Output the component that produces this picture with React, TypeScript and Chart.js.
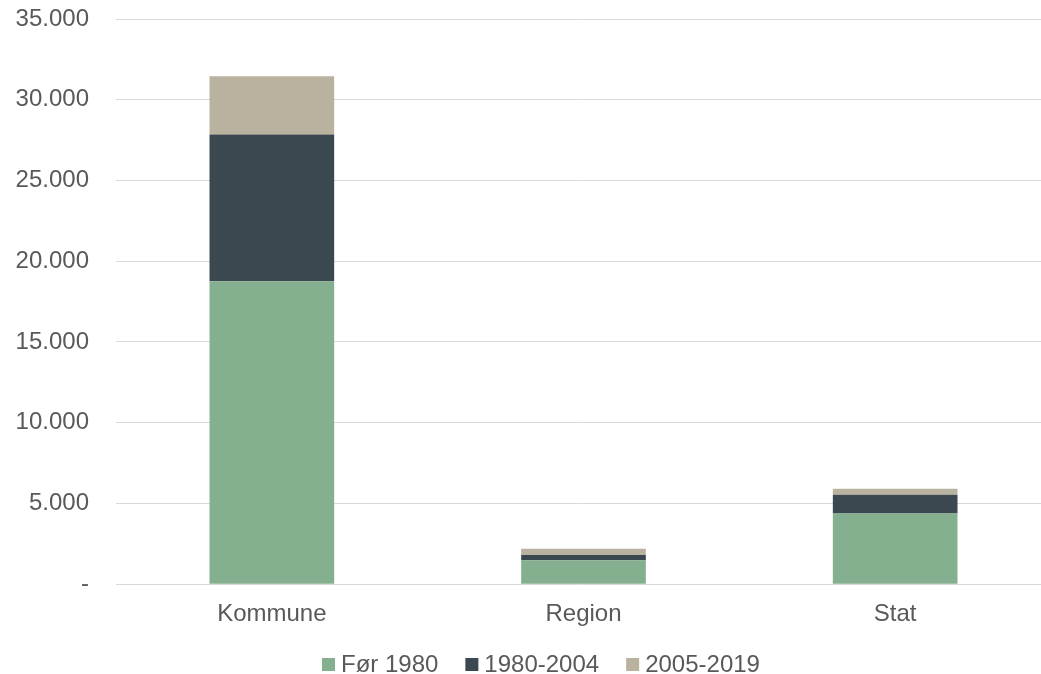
import React, { useEffect, useRef } from "react";
import { Chart, registerables } from "chart.js";

Chart.register(...registerables);

const categories = ["Kommune", "Region", "Stat"];
const seriesNames = ["Før 1980", "1980-2004", "2005-2019"];
const foer1980 = [18760, 1490, 4380];
const s1980to2004 = [9080, 325, 1155];
const s2005to2019 = [3610, 375, 370];
const yTicks = [0, 5000, 10000, 15000, 20000, 25000, 30000, 35000];

const colors = ["#84B08F", "#3B4850", "#B8B29E"];
const FONT = "'Liberation Sans', Arial, sans-serif";
const TEXT = "#595959";
const FS = 24;

function fmt(v: number): string {
  if (v === 0) return "-";
  return String(v).replace(/\B(?=(\d{3})+(?!\d))/g, ".");
}

const legendPlugin = {
  id: "customLegend",
  afterDraw(chart: any) {
    const ctx = chart.ctx as CanvasRenderingContext2D;
    ctx.save();
    ctx.font = `${FS}px ${FONT}`;
    const box = 13;
    const gapText = 6;
    const gapItem = 27;
    const items = chart.data.datasets.map((ds: any) => ({
      label: ds.label as string,
      color: ds.backgroundColor as string,
      w: ctx.measureText(ds.label).width,
    }));
    const total =
      items.reduce((s: number, it: any) => s + box + gapText + it.w, 0) +
      gapItem * (items.length - 1);
    const center = 541;
    let x = Math.round(center - total / 2);
    const baseline = 672;
    ctx.textBaseline = "alphabetic";
    ctx.textAlign = "left";
    for (const it of items) {
      ctx.fillStyle = it.color;
      ctx.fillRect(x, baseline - 14, box, box);
      x += box + gapText;
      ctx.fillStyle = TEXT;
      ctx.fillText(it.label, x, baseline);
      x += it.w + gapItem;
    }
    ctx.restore();
  },
};

export default function App() {
  const ref = useRef<HTMLCanvasElement | null>(null);
  useEffect(() => {
    document.body.style.margin = "0";
    document.body.style.overflow = "hidden";
    const ctx = ref.current!.getContext("2d")!;
    const chart = new Chart(ctx, {
      type: "bar",
      data: {
        labels: categories,
        datasets: [foer1980, s1980to2004, s2005to2019].map((d, i) => ({
          label: seriesNames[i],
          data: d,
          backgroundColor: colors[i],
          borderWidth: 0,
          categoryPercentage: 0.4,
          barPercentage: 1,
        })),
      },
      options: {
        responsive: false,
        animation: false,
        layout: { padding: { top: 19, right: 1, left: 0, bottom: 29 } },
        plugins: {
          tooltip: { enabled: false },
          legend: { display: false },
        },
        scales: {
          x: {
            stacked: true,
            grid: { display: false, drawTicks: false },
            border: { display: false },
            ticks: { color: TEXT, font: { family: FONT, size: FS }, padding: 16 },
          },
          y: {
            stacked: true,
            min: 0,
            max: 35000,
            afterBuildTicks: (scale: any) => {
              scale.ticks = yTicks.map((v) => ({ value: v }));
            },
            afterFit: (scale: any) => {
              scale.width = 116;
              scale.paddingTop = 0;
              scale.paddingBottom = 0;
            },
            grid: { color: "#D9D9D9", lineWidth: 1, drawTicks: false },
            border: { display: false },
            ticks: {
              color: TEXT,
              font: { family: FONT, size: FS },
              padding: 27,
              callback: (v: any) => fmt(Number(v)),
            },
          },
        },
      },
      plugins: [legendPlugin],
    });
    return () => chart.destroy();
  }, []);
  return (
    <div style={{ width: 1041, height: 674, overflow: "hidden" }}>
      <canvas ref={ref} width={1052} height={674} style={{ display: "block" }} />
    </div>
  );
}
